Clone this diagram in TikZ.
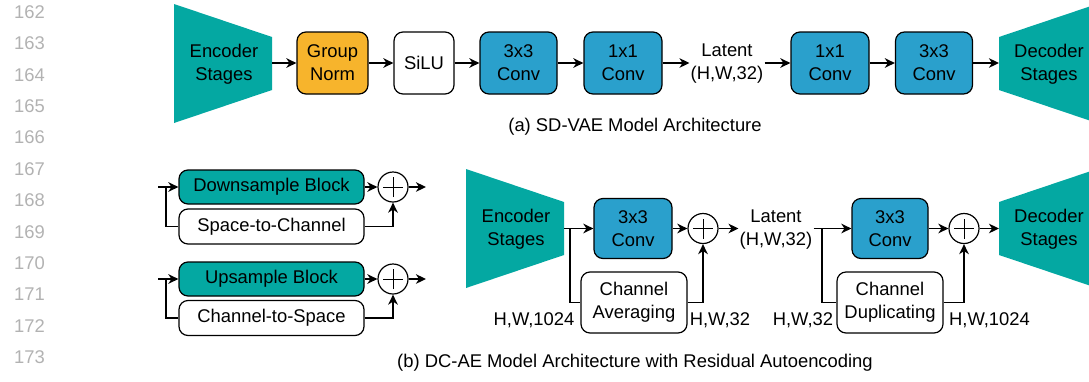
\documentclass[tikz,border=0pt]{standalone}
\usepackage{fontspec}
\setmainfont{Liberation Sans}
\usetikzlibrary{arrows.meta,calc}
\definecolor{tealA}{RGB}{4,168,162}
\definecolor{convblue}{RGB}{42,160,204}
\definecolor{gnorm}{RGB}{247,180,44}
\definecolor{lnum}{RGB}{178,178,178}
\begin{document}
\begin{tikzpicture}[x=1pt,y=-1pt,
  font=\fontsize{18.4}{23}\selectfont,
  box/.style={draw, line width=1.2pt, rounded corners=9pt, align=center, inner sep=0pt, minimum height=62pt},
  sbox/.style={draw, line width=1.2pt, rounded corners=9pt, align=center, inner sep=0pt, minimum width=185pt, minimum height=34pt},
  arr/.style={line width=1.8pt, -{Stealth[length=10pt,width=9.5pt,inset=3pt]}},
  ln/.style={line width=1.8pt},
  plus/.style={circle, draw, line width=1.2pt, minimum size=30pt, inner sep=0pt,
    path picture={\draw[line width=1pt]
      ([xshift=-10pt]path picture bounding box.center) -- ([xshift=10pt]path picture bounding box.center)
      ([yshift=-10pt]path picture bounding box.center) -- ([yshift=10pt]path picture bounding box.center);}},
  txt/.style={align=center, inner sep=1pt},
  lnumst/.style={text=lnum, inner sep=0pt}
]
\useasboundingbox (0,0) rectangle (1089,381);
\clip (0,0) rectangle (1089,381);

% line numbers
\foreach \n [count=\i from 0] in {162,...,173}
  \node[lnumst] (ln\n) at (29.5,{12+31.4*\i}) {\n};

% ---------- (a) ----------
\fill[tealA] (174,4) -- (272,37) -- (272,90) -- (174,123) -- cycle;
\node[txt] (encA) at (224,64) {Encoder\\Stages};
\coordinate (encAR) at (272,63);

\node[box, fill=gnorm, minimum width=71pt] (gn) at (332.5,63) {Group\\Norm};
\node[box, fill=white, minimum width=60pt] (silu) at (424,63) {SiLU};
\node[box, fill=convblue, minimum width=77pt] (ca1) at (518.5,63) {3x3\\Conv};
\node[box, fill=convblue, minimum width=78pt] (ca2) at (623,63) {1x1\\Conv};
\node[txt] (latA) at (727,64) {Latent\\(H,W,32)};
\node[box, fill=convblue, minimum width=78pt] (ca3) at (830,63) {1x1\\Conv};
\node[box, fill=convblue, minimum width=77pt] (ca4) at (934,63) {3x3\\Conv};

\fill[tealA] (999,37) -- (1097,4) -- (1097,123) -- (999,90) -- cycle;
\node[txt] (decA) at (1049,64) {Decoder\\Stages};
\coordinate (decAL) at (999,63);

\draw[arr] (encAR) -- (gn.west);
\draw[arr] (gn) -- (silu);
\draw[arr] (silu) -- (ca1);
\draw[arr] (ca1) -- (ca2);
\draw[arr] (ca2.east) -- (ca2.east -| latA.west);
\draw[arr] (ca3.west -| latA.east) -- (ca3.west);
\draw[arr] (ca3) -- (ca4);
\draw[arr] (ca4.east) -- (decAL);

\node[txt] (capA) at (635,127) {(a) SD-VAE Model Architecture};

% ---------- (b) left small blocks ----------
\node[sbox, fill=tealA] (ds) at (271.5,187) {Downsample Block};
\node[sbox, fill=white, minimum height=35pt] (s2c) at (271.5,226.5) {Space-to-Channel};
\node[plus] (p1) at (393,187) {};
\coordinate (in1) at (158,187);
\coordinate (j1) at (166,187);
\coordinate (o1) at (426,187);
\draw[arr] (in1) -- (ds.west);
\draw[ln] (j1) |- (s2c.west);
\draw[arr] (ds) -- (p1);
\draw[arr] (p1) -- (o1);
\draw[arr] (s2c.east) -| (p1.south);

\node[sbox, fill=tealA] (us) at (271.5,279) {Upsample Block};
\node[sbox, fill=white, minimum height=35pt] (c2s) at (271.5,318) {Channel-to-Space};
\node[plus] (p2) at (393,279) {};
\coordinate (in2) at (158,279);
\coordinate (j2) at (166,279);
\coordinate (o2) at (426,279);
\draw[arr] (in2) -- (us.west);
\draw[ln] (j2) |- (c2s.west);
\draw[arr] (us) -- (p2);
\draw[arr] (p2) -- (o2);
\draw[arr] (c2s.east) -| (p2.south);

% ---------- (b) right ----------
\fill[tealA] (466,169) -- (564,202) -- (564,255) -- (466,288) -- cycle;
\node[txt] (encB) at (516,229) {Encoder\\Stages};
\coordinate (encBR) at (564,228.5);
\coordinate (jB1) at (570,228.5);

\node[box, fill=convblue, minimum width=78pt, minimum height=60pt] (cb1) at (633,228.5) {3x3\\Conv};
\node[box, fill=white, minimum width=106pt, minimum height=61pt] (avg) at (634,302.5) {Channel\\Averaging};
\node[plus] (pb1) at (703,228.5) {};
\node[txt] (latB) at (776,229.5) {Latent\\(H,W,32)};
\coordinate (jB2) at (822,228.5);
\node[box, fill=convblue, minimum width=76pt, minimum height=60pt] (cb2) at (890,228.5) {3x3\\Conv};
\node[box, fill=white, minimum width=106pt, minimum height=61pt] (dup) at (890,302.5) {Channel\\Duplicating};
\node[plus] (pb2) at (964,228.5) {};

\fill[tealA] (999,202) -- (1097,169) -- (1097,288) -- (999,255) -- cycle;
\node[txt] (decB) at (1049,229) {Decoder\\Stages};
\coordinate (decBL) at (999,228.5);

\draw[arr] (encBR) -- (cb1.west);
\draw[ln] (jB1) |- (avg.west);
\draw[arr] (cb1) -- (pb1);
\draw[arr] (avg.east) -| (pb1.south);
\draw[arr] (pb1.east) -- (pb1.east -| latB.west);
\draw[arr] (cb2.west -| latB.east) -- (cb2.west);
\draw[ln] (jB2) |- (dup.west);
\draw[arr] (cb2) -- (pb2);
\draw[arr] (dup.east) -| (pb2.south);
\draw[arr] (pb2.east) -- (decBL);

\node[txt] (l1) at (534,320) {H,W,1024};
\node[txt] (l2) at (720,320) {H,W,32};
\node[txt] (l3) at (803,320) {H,W,32};
\node[txt] (l4) at (989.5,320) {H,W,1024};

\node[txt] (capB) at (635,363) {(b) DC-AE Model Architecture with Residual Autoencoding};
\end{tikzpicture}
\end{document}
